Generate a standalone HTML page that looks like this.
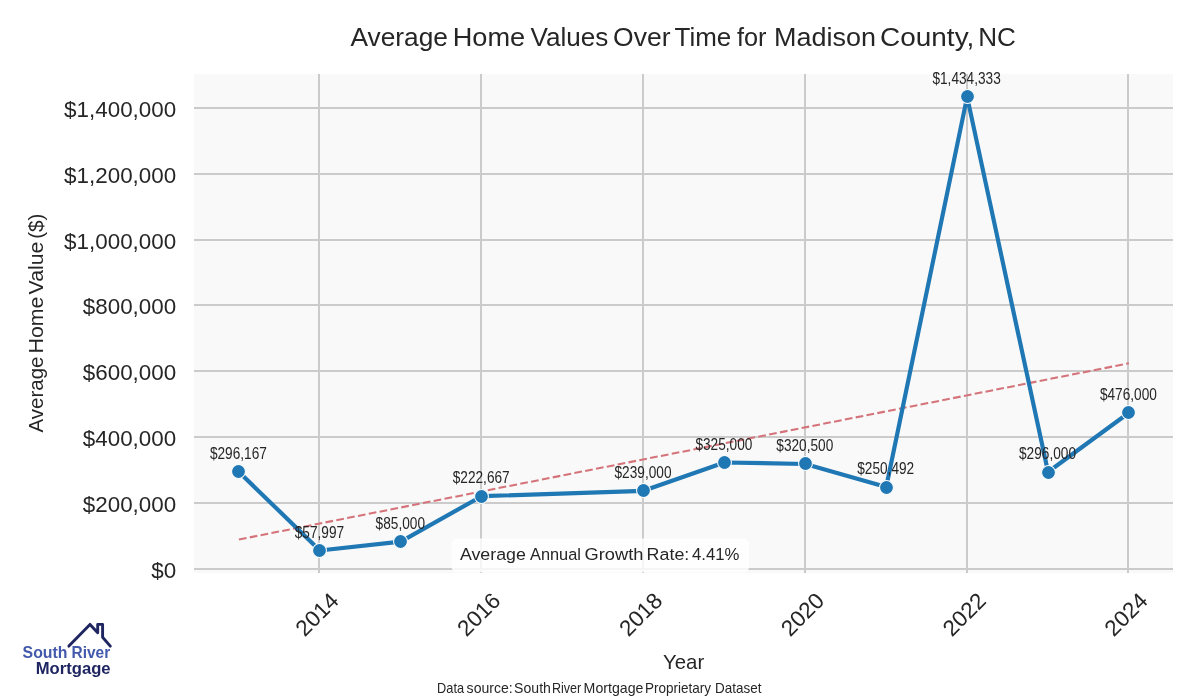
<!DOCTYPE html>
<html lang="en"><head><meta charset="utf-8"><title>Average Home Values Over Time for Madison County, NC</title>
<style>
html,body{margin:0;padding:0;background:#ffffff;}
body{width:1200px;height:700px;overflow:hidden;font-family:"Liberation Sans",sans-serif;}
svg{display:block;will-change:transform;}
svg text{font-family:"Liberation Sans",sans-serif;fill:#262626;}
.grid line{stroke:#cbcbcb;stroke-width:2;shape-rendering:crispEdges;}
.dl text{font-size:15.8px;text-anchor:middle;}
</style></head><body>
<svg width="1200" height="700" viewBox="0 0 1200 700">
<rect x="0" y="0" width="1200" height="700" fill="#ffffff"/>
<rect x="194" y="74" width="979" height="499" fill="#f9f9f9"/>
<g class="grid">
<line x1="194" y1="108" x2="1173" y2="108"/>
<line x1="194" y1="174" x2="1173" y2="174"/>
<line x1="194" y1="240" x2="1173" y2="240"/>
<line x1="194" y1="305" x2="1173" y2="305"/>
<line x1="194" y1="371" x2="1173" y2="371"/>
<line x1="194" y1="437" x2="1173" y2="437"/>
<line x1="194" y1="503" x2="1173" y2="503"/>
<line x1="194" y1="569" x2="1173" y2="569"/>
<line x1="319" y1="74" x2="319" y2="573"/>
<line x1="481" y1="74" x2="481" y2="573"/>
<line x1="643" y1="74" x2="643" y2="573"/>
<line x1="805" y1="74" x2="805" y2="573"/>
<line x1="967" y1="74" x2="967" y2="573"/>
<line x1="1128" y1="74" x2="1128" y2="573"/>
</g>
<g class="w" font-size="25.0" >
<text x="350.50" y="46.3" textLength="97.40" lengthAdjust="spacingAndGlyphs">Average</text>
<text x="452.72" y="46.3" textLength="72.50" lengthAdjust="spacingAndGlyphs">Home</text>
<text x="530.50" y="46.3" textLength="77.88" lengthAdjust="spacingAndGlyphs">Values</text>
<text x="613.12" y="46.3" textLength="57.36" lengthAdjust="spacingAndGlyphs">Over</text>
<text x="674.52" y="46.3" textLength="56.70" lengthAdjust="spacingAndGlyphs">Time</text>
<text x="737.00" y="46.3" textLength="29.52" lengthAdjust="spacingAndGlyphs">for</text>
<text x="774.12" y="46.3" textLength="101.86" lengthAdjust="spacingAndGlyphs">Madison</text>
<text x="880.08" y="46.3" textLength="94.22" lengthAdjust="spacingAndGlyphs">County,</text>
<text x="978.20" y="46.3" textLength="37.70" lengthAdjust="spacingAndGlyphs">NC</text>
</g>
<g font-size="22.4" text-anchor="end">
<text x="176.2" y="116.6">$1,400,000</text>
<text x="176.2" y="182.6">$1,200,000</text>
<text x="176.2" y="248.6">$1,000,000</text>
<text x="176.2" y="313.6">$800,000</text>
<text x="176.2" y="379.6">$600,000</text>
<text x="176.2" y="445.6">$400,000</text>
<text x="176.2" y="511.6">$200,000</text>
<text x="176.2" y="577.6">$0</text>
</g>
<g font-size="22.45" text-anchor="middle">
<text transform="translate(316.8 614.1) rotate(-45)" x="0" y="8">2014</text>
<text transform="translate(478.6 614.1) rotate(-45)" x="0" y="8">2016</text>
<text transform="translate(640.4 614.1) rotate(-45)" x="0" y="8">2018</text>
<text transform="translate(802.2 614.1) rotate(-45)" x="0" y="8">2020</text>
<text transform="translate(964.0 614.1) rotate(-45)" x="0" y="8">2022</text>
<text transform="translate(1125.8 614.1) rotate(-45)" x="0" y="8">2024</text>
</g>
<g class="w" font-size="20.9" >
<text x="663.06" y="669.1" textLength="41.16" lengthAdjust="spacingAndGlyphs">Year</text>
</g>
<g class="w" font-size="20.9" transform="translate(42.7 440) rotate(-90)">
<text x="7.50" y="0" textLength="75.96" lengthAdjust="spacingAndGlyphs">Average</text>
<text x="86.64" y="0" textLength="56.76" lengthAdjust="spacingAndGlyphs">Home</text>
<text x="145.54" y="0" textLength="52.84" lengthAdjust="spacingAndGlyphs">Value</text>
<text x="201.14" y="0" textLength="25.22" lengthAdjust="spacingAndGlyphs">($)</text>
</g>
<line x1="238.95" y1="539.5" x2="1128.9" y2="363.3" stroke="#d5737a" stroke-width="2.08" stroke-dasharray="7.7 3.33"/>
<polyline points="238.95,471.98 319.86,550.47 400.77,541.57 481.68,496.20 643.50,490.82 724.40,462.48 805.31,463.96 886.22,487.03 967.13,96.90 1048.04,472.03 1128.95,412.71" fill="none" stroke="#1f77b4" stroke-width="4.17" stroke-linejoin="round" stroke-linecap="round"/>
<g fill="#1f77b4" stroke="#ffffff" stroke-width="1.04">
<circle cx="238.5" cy="471.5" r="6.94"/>
<circle cx="319.5" cy="550.5" r="6.94"/>
<circle cx="400.5" cy="541.5" r="6.94"/>
<circle cx="481.5" cy="496.5" r="6.94"/>
<circle cx="643.5" cy="490.5" r="6.94"/>
<circle cx="724.5" cy="462.5" r="6.94"/>
<circle cx="805.5" cy="463.5" r="6.94"/>
<circle cx="886.5" cy="487.5" r="6.94"/>
<circle cx="967.5" cy="96.5" r="6.94"/>
<circle cx="1048.5" cy="472.5" r="6.94"/>
<circle cx="1128.5" cy="412.5" r="6.94"/>
</g>
<rect x="452.2" y="539.2" width="296.2" height="32.3" rx="5" ry="5" fill="#ffffff" fill-opacity="0.8" stroke="#ffffff" stroke-opacity="0.8" stroke-width="1.4"/>
<g class="w" font-size="16.7" >
<text x="459.92" y="560.0" textLength="65.90" lengthAdjust="spacingAndGlyphs">Average</text>
<text x="530.00" y="560.0" textLength="50.90" lengthAdjust="spacingAndGlyphs">Annual</text>
<text x="584.58" y="560.0" textLength="58.86" lengthAdjust="spacingAndGlyphs">Growth</text>
<text x="646.62" y="560.0" textLength="42.66" lengthAdjust="spacingAndGlyphs">Rate:</text>
<text x="692.00" y="560.0" textLength="47.42" lengthAdjust="spacingAndGlyphs">4.41%</text>
</g>
<g class="dl">
<text transform="translate(238.4 459.1) scale(0.865 1)" x="0" y="0">$296,167</text>
<text transform="translate(319.4 537.6) scale(0.865 1)" x="0" y="0">$57,997</text>
<text transform="translate(400.3 528.7) scale(0.865 1)" x="0" y="0">$85,000</text>
<text transform="translate(481.2 483.3) scale(0.865 1)" x="0" y="0">$222,667</text>
<text transform="translate(643.0 477.9) scale(0.865 1)" x="0" y="0">$239,000</text>
<text transform="translate(723.9 449.6) scale(0.865 1)" x="0" y="0">$325,000</text>
<text transform="translate(804.8 451.1) scale(0.865 1)" x="0" y="0">$320,500</text>
<text transform="translate(885.7 474.1) scale(0.865 1)" x="0" y="0">$250,492</text>
<text transform="translate(966.6 84.0) scale(0.865 1)" x="0" y="0">$1,434,333</text>
<text transform="translate(1047.5 459.1) scale(0.865 1)" x="0" y="0">$296,000</text>
<text transform="translate(1128.4 399.8) scale(0.865 1)" x="0" y="0">$476,000</text>
</g>
<g class="w" font-size="13.9" >
<text x="437.08" y="692.8" textLength="26.94" lengthAdjust="spacingAndGlyphs">Data</text>
<text x="466.60" y="692.8" textLength="46.18" lengthAdjust="spacingAndGlyphs">source:</text>
<text x="514.12" y="692.8" textLength="36.78" lengthAdjust="spacingAndGlyphs">South</text>
<text x="552.02" y="692.8" textLength="29.24" lengthAdjust="spacingAndGlyphs">River</text>
<text x="583.62" y="692.8" textLength="59.78" lengthAdjust="spacingAndGlyphs">Mortgage</text>
<text x="645.12" y="692.8" textLength="65.92" lengthAdjust="spacingAndGlyphs">Proprietary</text>
<text x="715.08" y="692.8" textLength="46.40" lengthAdjust="spacingAndGlyphs">Dataset</text>
</g>
<polyline points="68.9,646.1 90,624.4 97.7,632.7 97.7,624.4 102.6,624.4 102.6,637.3 110.3,646.1" fill="none" stroke="#1f2560" stroke-width="2.9" stroke-linecap="round" stroke-linejoin="round"/>
<g class="w" font-size="16.1" font-weight="bold">
<text x="22.56" y="658.2" textLength="44.94" lengthAdjust="spacingAndGlyphs" style="fill:#4359ab">South</text>
<text x="71.48" y="658.2" textLength="38.70" lengthAdjust="spacingAndGlyphs" style="fill:#4359ab">River</text>
</g>
<g class="w" font-size="15.7" font-weight="bold">
<text x="35.75" y="674.2" textLength="74.79" lengthAdjust="spacingAndGlyphs" style="fill:#1f2560">Mortgage</text>
</g>
</svg>
</body></html>
